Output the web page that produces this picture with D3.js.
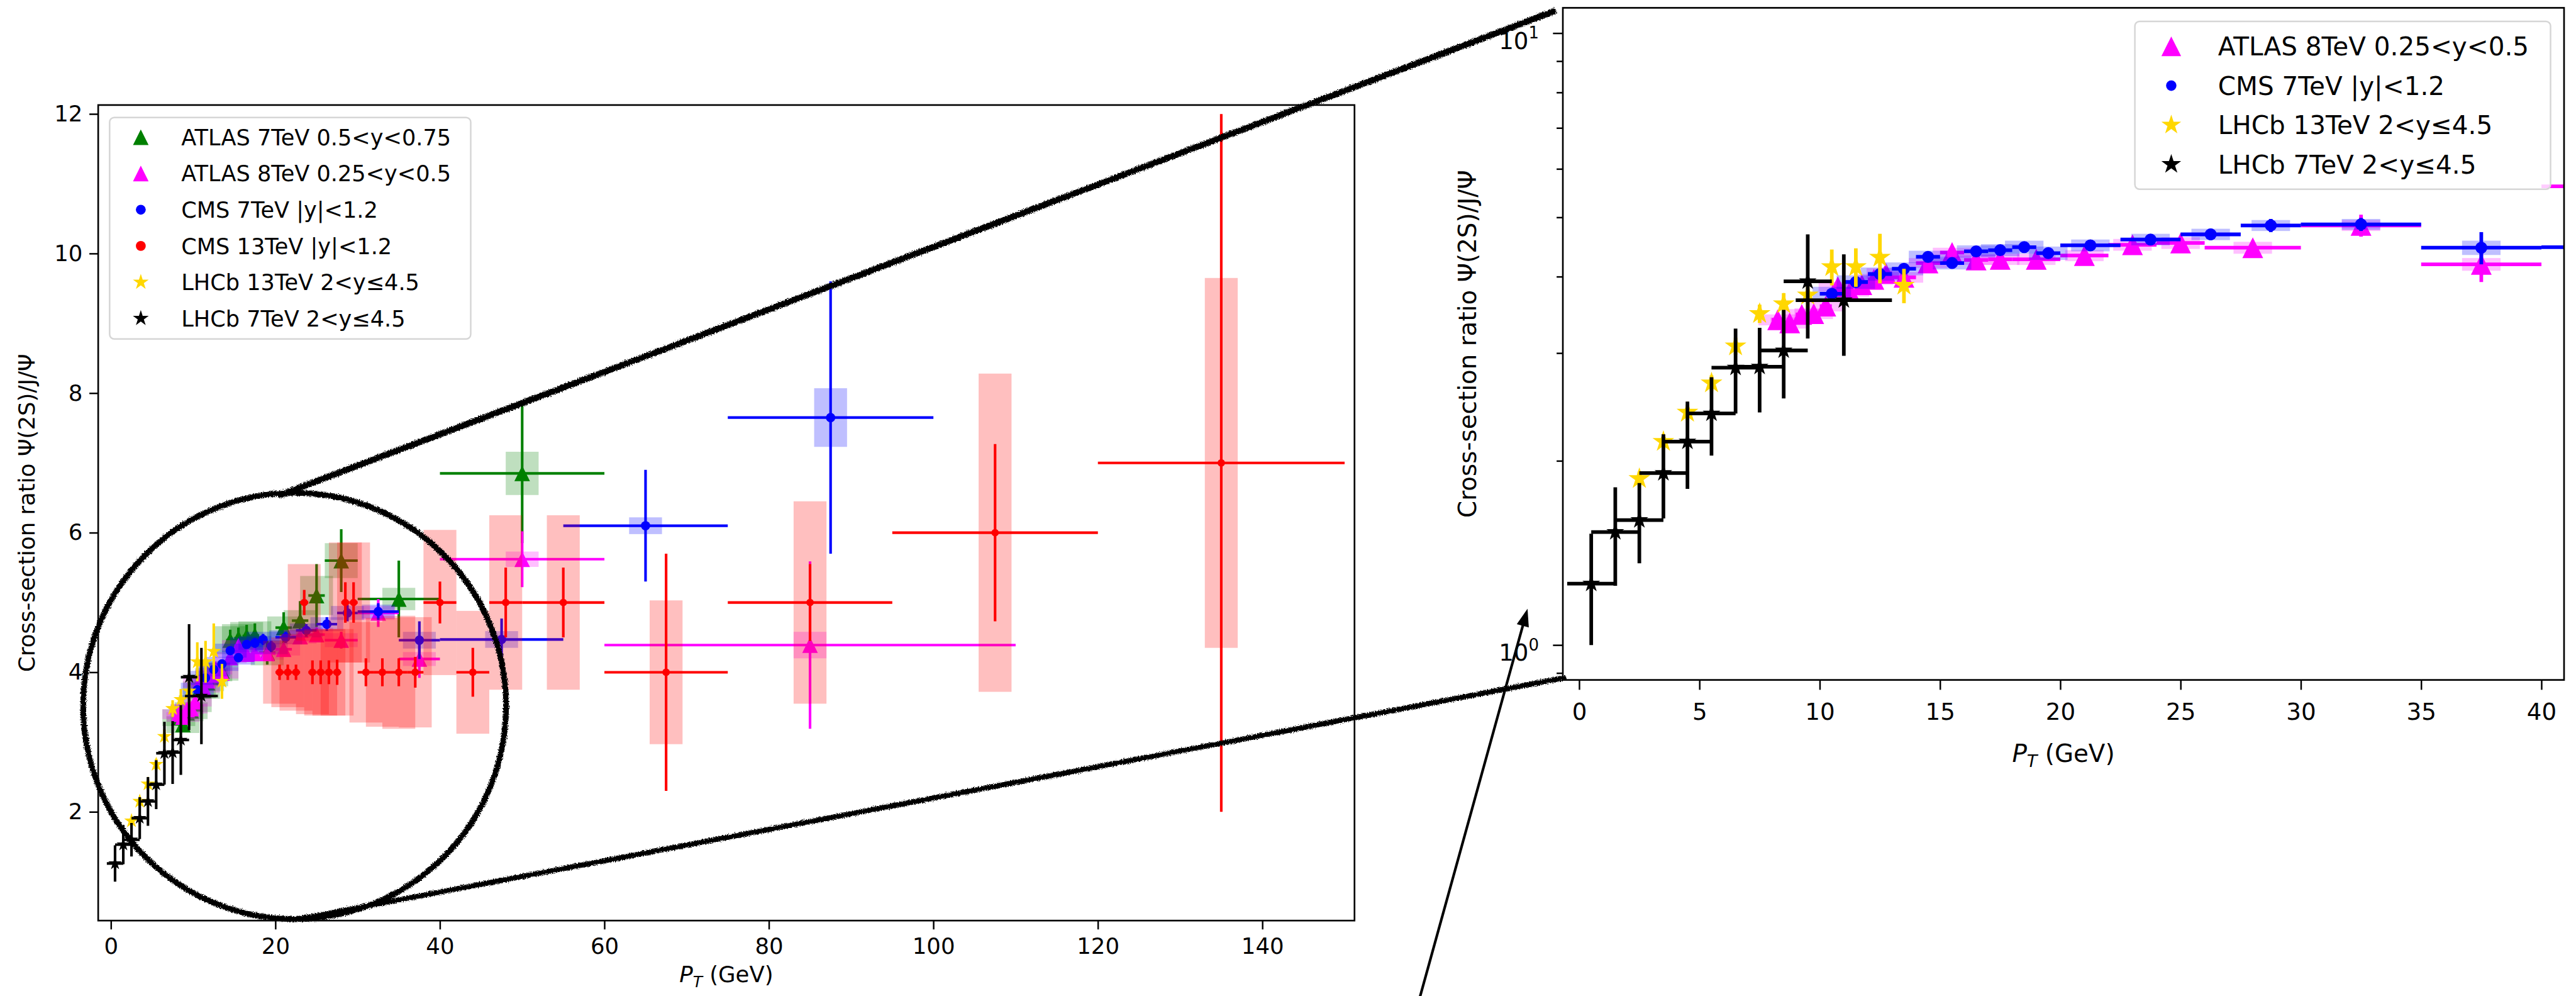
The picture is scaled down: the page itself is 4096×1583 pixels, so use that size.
<!DOCTYPE html>
<html>
<head>
<meta charset="utf-8">
<script src="https://cdn.jsdelivr.net/npm/d3@7"></script>
<style>
  html, body { margin: 0; padding: 0; background: #fff; overflow: hidden; }
</style>
</head>
<body>
<script>
// ---------------------------------------------------------------------------
// Psi(2S)/J/psi cross-section ratio versus transverse momentum
// ---------------------------------------------------------------------------

// ATLAS 7 TeV, 0.5<y<0.75
const atlas7Pt    = [8.25, 8.75, 9.25, 9.75, 10.25, 10.75, 11.25, 11.75, 12.25, 12.75, 13.5, 14.5, 15.5, 16.5, 17.5, 19, 21, 23, 25, 28, 35, 50];
const atlas7PtErr = [0.25, 0.25, 0.25, 0.25, 0.25, 0.25, 0.25, 0.25, 0.25, 0.25, 0.5, 0.5, 0.5, 0.5, 0.5, 1, 1, 1, 1, 2, 5, 10];
const atlas7Ratio = [3.35, 3.25, 3.42, 3.45, 3.55, 3.75, 3.74, 3.85, 3.93, 4.00, 4.02, 4.46, 4.49, 4.52, 4.53, 4.28, 4.64, 4.74, 5.10, 5.60, 5.05, 6.85];
const atlas7Stat  = [0.08, 0.08, 0.08, 0.08, 0.08, 0.09, 0.09, 0.09, 0.10, 0.10, 0.12, 0.15, 0.15, 0.16, 0.17, 0.17, 0.22, 0.28, 0.45, 0.45, 0.55, 1.00];
const atlas7Syst  = [0.12, 0.12, 0.12, 0.12, 0.12, 0.12, 0.12, 0.12, 0.13, 0.13, 0.14, 0.20, 0.20, 0.20, 0.20, 0.18, 0.16, 0.15, 0.28, 0.25, 0.16, 0.31];

// ATLAS 8 TeV, 0.25<y<0.5
const atlas8Pt    = [8.25, 8.75, 9.25, 9.75, 10.25, 10.75, 11.25, 11.75, 12.25, 12.75, 13.5, 14.5, 15.5, 16.5, 17.5, 19, 21, 23, 25, 28, 32.5, 37.5, 50, 85];
const atlas8PtErr = [0.25, 0.25, 0.25, 0.25, 0.25, 0.25, 0.25, 0.25, 0.25, 0.25, 0.5, 0.5, 0.5, 0.5, 0.5, 1, 1, 1, 1, 2, 2.5, 2.5, 10, 25];
const atlas8Ratio = [3.40, 3.36, 3.47, 3.48, 3.58, 3.85, 3.78, 3.88, 3.96, 4.05, 3.99, 4.21, 4.38, 4.26, 4.27, 4.27, 4.33, 4.51, 4.54, 4.46, 4.85, 4.19, 5.62, 4.39];
const atlas8Stat  = [0.05, 0.05, 0.05, 0.05, 0.05, 0.05, 0.05, 0.05, 0.06, 0.06, 0.06, 0.06, 0.07, 0.07, 0.07, 0.07, 0.08, 0.09, 0.10, 0.12, 0.20, 0.27, 0.40, 1.20];
const atlas8Syst  = [0.07, 0.07, 0.07, 0.07, 0.07, 0.07, 0.07, 0.07, 0.08, 0.08, 0.08, 0.08, 0.08, 0.08, 0.09, 0.09, 0.09, 0.10, 0.10, 0.10, 0.10, 0.10, 0.11, 0.19];

// CMS 7 TeV, |y|<1.2
const cms7Pt    = [10.5, 11.5, 12.5, 13.5, 14.5, 15.5, 16.5, 17.5, 18.5, 19.5, 21.25, 23.75, 26.25, 28.75, 32.5, 37.5, 47.5, 65, 87.5];
const cms7PtErr = [0.5, 0.5, 0.5, 0.5, 0.5, 0.5, 0.5, 0.5, 0.5, 0.5, 1.25, 1.25, 1.25, 1.25, 2.5, 2.5, 7.5, 10, 12.5];
const cms7Ratio = [3.75, 3.92, 4.04, 4.12, 4.31, 4.21, 4.40, 4.42, 4.47, 4.37, 4.50, 4.60, 4.69, 4.85, 4.87, 4.46, 4.47, 6.10, 7.65];
const cms7Stat  = [0.05, 0.05, 0.05, 0.05, 0.05, 0.06, 0.06, 0.07, 0.08, 0.08, 0.08, 0.09, 0.10, 0.12, 0.12, 0.27, 0.30, 0.80, 1.95];
const cms7Syst  = [0.10, 0.10, 0.10, 0.10, 0.10, 0.10, 0.10, 0.10, 0.11, 0.11, 0.10, 0.10, 0.10, 0.10, 0.10, 0.12, 0.12, 0.12, 0.42];

// CMS 13 TeV, |y|<1.2
const cms13Pt    = [20.5, 21.5, 22.5, 23.5, 24.5, 25.5, 26.5, 27.5, 28.5, 29.5, 31, 33, 35, 37, 40, 44, 48, 55, 67.5, 85, 107.5, 135];
const cms13PtErr = [0.5, 0.5, 0.5, 0.5, 0.5, 0.5, 0.5, 0.5, 0.5, 0.5, 1, 1, 1, 1, 2, 2, 2, 5, 7.5, 10, 12.5, 15];
const cms13Ratio = [4, 4, 4, 5, 4, 4, 4, 4, 5, 5, 4, 4, 4, 4, 5, 4, 5, 5, 4, 5, 6, 7];
const cms13Stat  = [0.11, 0.11, 0.11, 0.18, 0.17, 0.17, 0.17, 0.18, 0.29, 0.29, 0.20, 0.20, 0.20, 0.22, 0.30, 0.35, 0.50, 0.50, 1.70, 0.55, 1.27, 5.00];
const cms13Syst  = [0.45, 0.50, 0.55, 0.55, 0.60, 0.62, 0.62, 0.62, 0.86, 0.86, 0.72, 0.78, 0.81, 0.79, 1.04, 0.88, 1.25, 1.25, 1.03, 1.45, 2.28, 2.65];

// LHCb 13 TeV, 2<y<=4.5
const lhcb13Pt    = [2.5, 3.5, 4.5, 5.5, 6.5, 7.5, 8.5, 9.5, 10.5, 11.5, 12.5, 13.5];
const lhcb13Ratio = [1.87, 2.15, 2.40, 2.68, 3.08, 3.48, 3.61, 3.73, 4.15, 4.15, 4.30, 3.87];
const lhcb13Stat  = [0.05, 0.06, 0.07, 0.08, 0.10, 0.12, 0.15, 0.18, 0.28, 0.30, 0.40, 0.25];

// LHCb 7 TeV, 2<y<=4.5
const lhcb7Pt    = [0.5, 1.5, 2.5, 3.5, 4.5, 5.5, 6.5, 7.5, 8.5, 9.5, 11];
const lhcb7PtErr = [1, 1, 1, 1, 1, 1, 1, 1, 1, 1, 2];
const lhcb7Ratio = [1.26, 1.53, 1.60, 1.91, 2.15, 2.39, 2.84, 2.85, 3.03, 3.93, 3.66];
const lhcb7Stat  = [0.26, 0.28, 0.24, 0.30, 0.35, 0.35, 0.45, 0.45, 0.50, 0.76, 0.69];

// Axis ticks
const leftXTicks  = [0, 20, 40, 60, 80, 100, 120, 140];
const leftYTicks  = [2, 4, 6, 8, 10, 12];
const rightXTicks = [0, 5, 10, 15, 20, 25, 30, 35, 40];
const rightYMajor = [1, 10];
const rightYMinor = [0.9, 2, 3, 4, 5, 6, 7, 8, 9];

const xLabel = 'P_T (GeV)';
const yLabel = 'Cross-section ratio Ψ(2S)/J/Ψ';

// ---------------------------------------------------------------------------
const series = {
  atlas7: { label: 'ATLAS 7TeV 0.5<y<0.75', color: '#008000', marker: 'tri',
            pt: atlas7Pt, ptErr: atlas7PtErr, ratio: atlas7Ratio, stat: atlas7Stat, syst: atlas7Syst },
  atlas8: { label: 'ATLAS 8TeV 0.25<y<0.5', color: '#ff00ff', marker: 'tri',
            pt: atlas8Pt, ptErr: atlas8PtErr, ratio: atlas8Ratio, stat: atlas8Stat, syst: atlas8Syst },
  cms7:   { label: 'CMS 7TeV |y|<1.2', color: '#0000ff', marker: 'dot',
            pt: cms7Pt, ptErr: cms7PtErr, ratio: cms7Ratio, stat: cms7Stat, syst: cms7Syst },
  cms13:  { label: 'CMS 13TeV |y|<1.2', color: '#ff0000', marker: 'dot',
            pt: cms13Pt, ptErr: cms13PtErr, ratio: cms13Ratio, stat: cms13Stat, syst: cms13Syst },
  lhcb13: { label: 'LHCb 13TeV 2<y≤4.5', color: '#ffd700', marker: 'star',
            pt: lhcb13Pt, ptErr: null, ratio: lhcb13Ratio, stat: lhcb13Stat, syst: null },
  lhcb7:  { label: 'LHCb 7TeV 2<y≤4.5', color: '#000000', marker: 'star',
            pt: lhcb7Pt, ptErr: lhcb7PtErr, ratio: lhcb7Ratio, stat: lhcb7Stat, syst: null }
};

const W = 4958, H = 1916;
const FONT = '"DejaVu Sans", "Liberation Sans", sans-serif';

const svg = d3.select('body').append('svg')
  .attr('width', 4096).attr('height', 1583)
  .attr('viewBox', `0 0 ${W} ${H}`)
  .style('font-family', FONT);

svg.append('rect').attr('width', W).attr('height', H).attr('fill', '#fff');
const defs = svg.append('defs');

// rough pen texture for the hand-drawn magnifier outline
const pencil = defs.append('filter').attr('id', 'pencil')
  .attr('filterUnits', 'userSpaceOnUse')
  .attr('x', 0).attr('y', 0).attr('width', W).attr('height', H);
pencil.append('feTurbulence').attr('type', 'fractalNoise')
  .attr('baseFrequency', 0.45).attr('numOctaves', 2).attr('seed', 7).attr('result', 'noise');
pencil.append('feDisplacementMap').attr('in', 'SourceGraphic').attr('in2', 'noise')
  .attr('scale', 8).attr('xChannelSelector', 'R').attr('yChannelSelector', 'G');

function markerPath(kind, s) {
  if (kind === 'tri') {
    const h = s / 2;
    return `M0,${-h}L${-h},${h}L${h},${h}Z`;
  }
  if (kind === 'star') {
    let p = '';
    for (let k = 0; k < 10; k++) {
      const r = k % 2 === 0 ? s : s * 0.382;
      const a = -Math.PI / 2 + k * Math.PI / 5;
      p += (k ? 'L' : 'M') + (r * Math.cos(a)).toFixed(2) + ',' + (r * Math.sin(a)).toFixed(2);
    }
    return p + 'Z';
  }
  return `M${-s},0A${s},${s} 0 1,0 ${s},0A${s},${s} 0 1,0 ${-s},0Z`;
}

function styleAxis(a, fontSize) {
  a.select('.domain').remove();
  a.attr('font-family', FONT).attr('font-size', fontSize);
  a.selectAll('.tick line').attr('stroke', '#000').attr('stroke-width', 3);
  a.selectAll('.tick text').attr('fill', '#000');
}

function drawPanel(p) {
  const g = svg.append('g');
  const f = p.frame;
  const clipId = p.id + '-clip';
  defs.append('clipPath').attr('id', clipId).append('rect')
    .attr('x', f.x0).attr('y', f.y0).attr('width', f.x1 - f.x0).attr('height', f.y1 - f.y0);

  const plot = g.append('g').attr('clip-path', `url(#${clipId})`);

  p.keys.forEach(key => {
    const s = series[key];
    const sg = plot.append('g');
    const bars = sg.append('g').attr('stroke', s.color).attr('stroke-width', p.lw);
    s.pt.forEach((v, i) => {
      const r = s.ratio[i];
      if (s.ptErr) {
        bars.append('line')
          .attr('x1', p.x(v - s.ptErr[i])).attr('x2', p.x(v + s.ptErr[i]))
          .attr('y1', p.y(r)).attr('y2', p.y(r));
      }
      bars.append('line')
        .attr('x1', p.x(v)).attr('x2', p.x(v))
        .attr('y1', p.y(r - s.stat[i])).attr('y2', p.y(r + s.stat[i]));
    });
    sg.append('g').selectAll('path').data(s.pt).join('path')
      .attr('transform', (v, i) => `translate(${p.x(v)},${p.y(s.ratio[i])})`)
      .attr('d', markerPath(s.marker, p.sizes[key]))
      .attr('fill', s.color);
    if (s.syst) {
      sg.append('g').selectAll('rect').data(s.pt).join('rect')
        .attr('x', v => p.x(v - p.boxHalf))
        .attr('width', v => p.x(v + p.boxHalf) - p.x(v - p.boxHalf))
        .attr('y', (v, i) => p.y(s.ratio[i] + s.syst[i]))
        .attr('height', (v, i) => p.y(s.ratio[i] - s.syst[i]) - p.y(s.ratio[i] + s.syst[i]))
        .attr('fill', s.color).attr('fill-opacity', 0.25);
    }
  });

  // axes
  g.append('g').attr('transform', `translate(0,${f.y1})`)
    .call(d3.axisBottom(p.x).tickValues(p.xTicks).tickSize(p.tick).tickPadding(p.xPad).tickSizeOuter(0))
    .call(a => styleAxis(a, p.tickFont));

  if (p.log) {
    g.append('g').attr('transform', `translate(${f.x0},0)`)
      .call(d3.axisLeft(p.y).tickValues(rightYMinor).tickSize(p.minorTick).tickFormat(''))
      .call(a => styleAxis(a, p.tickFont));
    g.append('g').attr('transform', `translate(${f.x0},0)`)
      .call(d3.axisLeft(p.y).tickValues(rightYMajor).tickSize(p.tick).tickFormat(''))
      .call(a => styleAxis(a, p.tickFont));
    rightYMajor.forEach(v => {
      const t = g.append('text')
        .attr('x', f.x0 - p.tick - p.yPad).attr('y', p.y(v) + 0.68 * p.tickFont)
        .attr('text-anchor', 'end').attr('font-size', p.tickFont).attr('fill', '#000')
        .text('10');
      t.append('tspan').attr('font-size', p.tickFont * 0.7).attr('dy', -0.45 * p.tickFont)
        .text(String(Math.round(Math.log10(v))));
    });
  } else {
    g.append('g').attr('transform', `translate(${f.x0},0)`)
      .call(d3.axisLeft(p.y).tickValues(p.yTicks).tickSize(p.tick).tickPadding(p.yPad).tickSizeOuter(0))
      .call(a => styleAxis(a, p.tickFont));
  }

  // frame
  g.append('rect')
    .attr('x', f.x0).attr('y', f.y0).attr('width', f.x1 - f.x0).attr('height', f.y1 - f.y0)
    .attr('fill', 'none').attr('stroke', '#000').attr('stroke-width', 3.2);

  // axis labels
  const xl = g.append('text')
    .attr('x', (f.x0 + f.x1) / 2).attr('y', p.xLabelY)
    .attr('text-anchor', 'middle').attr('font-size', p.labelFont).attr('fill', '#000');
  const parts = xLabel.split('_');
  xl.append('tspan').attr('font-style', 'italic').text(parts[0]);
  xl.append('tspan').attr('font-style', 'italic').attr('font-size', p.labelFont * 0.7)
    .attr('dy', 0.2 * p.labelFont).text(parts[1].split(' ')[0]);
  xl.append('tspan').attr('dy', -0.2 * p.labelFont).text(' ' + parts[1].split(' ').slice(1).join(' '));

  g.append('text')
    .attr('transform', `translate(${p.yLabelX},${(f.y0 + f.y1) / 2}) rotate(-90)`)
    .attr('dy', '0.35em')
    .attr('text-anchor', 'middle').attr('font-size', p.labelFont).attr('fill', '#000')
    .text(yLabel);

  // legend
  const L = p.legend;
  const lg = g.append('g');
  lg.append('rect')
    .attr('x', L.x0).attr('y', L.y0).attr('width', L.x1 - L.x0).attr('height', L.y1 - L.y0)
    .attr('rx', 9).attr('ry', 9)
    .attr('fill', '#fff').attr('fill-opacity', 0.8)
    .attr('stroke', '#d6d6d6').attr('stroke-width', 3);
  L.keys.forEach((key, i) => {
    const s = series[key];
    const yy = L.firstRow + i * L.rowStep;
    lg.append('path')
      .attr('transform', `translate(${L.markerX},${yy})`)
      .attr('d', markerPath(s.marker, L.sizes[s.marker]))
      .attr('fill', s.color);
    lg.append('text')
      .attr('x', L.textX).attr('y', yy).attr('dy', '0.36em')
      .attr('font-size', L.font).attr('fill', '#000')
      .text(s.label);
  });
}

// ---------------------------------------------------------------------------
// Full pT range, linear ratio axis
const leftFrame = { x0: 189, x1: 2607, y0: 202, y1: 1771 };
drawPanel({
  id: 'full',
  frame: leftFrame,
  x: d3.scaleLinear().domain([-1.55, 151.2]).range([leftFrame.x0, leftFrame.x1]),
  y: d3.scaleLinear().domain([0.442, 12.128]).range([leftFrame.y1, leftFrame.y0]),
  log: false,
  keys: ['atlas7', 'atlas8', 'cms7', 'cms13', 'lhcb13', 'lhcb7'],
  sizes: { atlas7: 30, atlas8: 30, cms7: 9, cms13: 7.2, lhcb13: 15, lhcb7: 13.5 },
  lw: 5, boxHalf: 2,
  xTicks: leftXTicks, yTicks: leftYTicks,
  tick: 17, xPad: 16, yPad: 13, tickFont: 43,
  labelFont: 43, xLabelY: 1890, yLabelX: 52,
  legend: {
    x0: 211, x1: 906, y0: 226, y1: 652,
    keys: ['atlas7', 'atlas8', 'cms7', 'cms13', 'lhcb13', 'lhcb7'],
    firstRow: 264, rowStep: 69.7, markerX: 271, textX: 349, font: 42.5,
    sizes: { tri: 30, dot: 9.5, star: 16 }
  }
});

// Low pT detail, logarithmic ratio axis
const rightFrame = { x0: 3008, x1: 4935, y0: 15, y1: 1308 };
drawPanel({
  id: 'zoom',
  frame: rightFrame,
  x: d3.scaleLinear().domain([-0.68, 40.94]).range([rightFrame.x0, rightFrame.x1]),
  y: d3.scaleLog().domain([0.877, 11.0]).range([rightFrame.y1, rightFrame.y0]),
  log: true,
  keys: ['atlas8', 'cms7', 'lhcb13', 'lhcb7'],
  sizes: { atlas8: 40, cms7: 11.5, lhcb13: 22, lhcb7: 18 },
  lw: 7, boxHalf: 0.8,
  xTicks: rightXTicks,
  tick: 19, minorTick: 12, xPad: 26, yPad: 27, tickFont: 45,
  labelFont: 47, xLabelY: 1466, yLabelX: 2824,
  legend: {
    x0: 4109, x1: 4909, y0: 41, y1: 364,
    keys: ['atlas8', 'cms7', 'lhcb13', 'lhcb7'],
    firstRow: 89, rowStep: 75.7, markerX: 4179, textX: 4269, font: 49,
    sizes: { tri: 38, dot: 10, star: 20 }
  }
});

// ---------------------------------------------------------------------------
// Hand-drawn magnifier: circle around the low-pT region and lines to the detail panel
const pen = svg.append('g').attr('filter', 'url(#pencil)')
  .attr('fill', 'none').attr('stroke', '#000').attr('stroke-linecap', 'round');
pen.append('ellipse').attr('cx', 567).attr('cy', 1358).attr('rx', 407).attr('ry', 410)
  .attr('stroke-width', 11);
pen.append('line').attr('x1', 540).attr('y1', 952).attr('x2', 2990).attr('y2', 22)
  .attr('stroke-width', 12);
pen.append('line').attr('x1', 575).attr('y1', 1768).attr('x2', 3010).attr('y2', 1304)
  .attr('stroke-width', 10);

// Arrow pointing into the detail panel
const tail = [2731, 1925], tip = [2940, 1171];
const dx = tip[0] - tail[0], dy = tip[1] - tail[1];
const len = Math.hypot(dx, dy), ux = dx / len, uy = dy / len;
const headLen = 34, headHalf = 12;
const bx = tip[0] - headLen * ux, by = tip[1] - headLen * uy;
svg.append('line')
  .attr('x1', tail[0]).attr('y1', tail[1]).attr('x2', bx + 4 * ux).attr('y2', by + 4 * uy)
  .attr('stroke', '#000').attr('stroke-width', 5);
svg.append('path')
  .attr('d', `M${tip[0]},${tip[1]}L${bx - headHalf * uy},${by + headHalf * ux}L${bx + headHalf * uy},${by - headHalf * ux}Z`)
  .attr('fill', '#000');
</script>
</body>
</html>
